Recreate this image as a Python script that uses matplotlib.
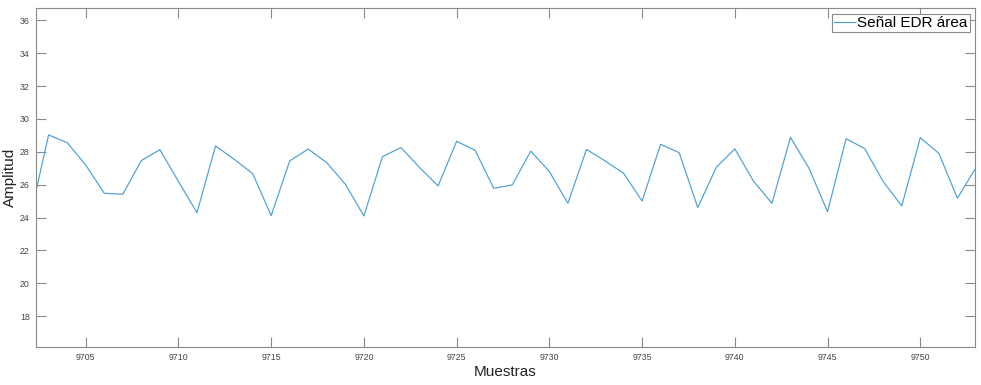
import numpy as np
import matplotlib.pyplot as plt

# EDR signal samples
muestras = np.arange(9702, 9754)
amplitud = [24.0, 29.03, 28.56, 27.2, 25.48, 25.42, 27.47, 28.13, 26.2, 24.3,
            28.36, 27.55, 26.68, 24.12, 27.45, 28.17, 27.34, 26.03, 24.1, 27.71,
            28.26, 27.05, 25.93, 28.64, 28.09, 25.78, 25.99, 28.05, 26.8, 24.87,
            28.15, 27.45, 26.7, 25.01, 28.46, 27.95, 24.61, 27.06, 28.18, 26.23,
            24.87, 28.88, 27.0, 24.36, 28.8, 28.2, 26.19, 24.71, 28.86, 27.91,
            25.18, 27.04]
xticks = [9705, 9710, 9715, 9720, 9725, 9730, 9735, 9740, 9745, 9750]
yticks = [18, 20, 22, 24, 26, 28, 30, 32, 34, 36]

plt.rcParams['font.family'] = ['Liberation Sans', 'DejaVu Sans']

fig = plt.figure(figsize=(9.81, 3.85), dpi=100)
ax = fig.add_axes([0.0367, 0.0987, 0.9572, 0.8797])

ax.plot(muestras, amplitud, color='#4d9fd6', linewidth=0.85, label='Señal EDR área')

ax.set_xlim(9702.32, 9752.95)
ax.set_ylim(16.13, 36.73)
ax.set_xticks(xticks)
ax.set_yticks(yticks)

# matlab style box with inward ticks on every side
ax.tick_params(direction='in', length=7, width=0.8, color='#8a8a8a',
               labelsize=6.3, labelcolor='#444444', top=True, right=True, pad=4.5)
for s in ax.spines.values():
    s.set_color('#8a8a8a')
    s.set_linewidth(0.8)

ax.set_xlabel('Muestras', fontsize=11, color='#222222', labelpad=2)
ax.set_ylabel('Amplitud', fontsize=11, color='#222222', labelpad=2)

leg = ax.legend(loc='upper right', fontsize=11, fancybox=False, framealpha=1,
                borderaxespad=0.35, handlelength=1.4, handletextpad=0.1,
                borderpad=0.15)
leg.get_frame().set_edgecolor('#8a8a8a')
leg.get_frame().set_linewidth(0.8)

fig.savefig('out.png', dpi=100)
